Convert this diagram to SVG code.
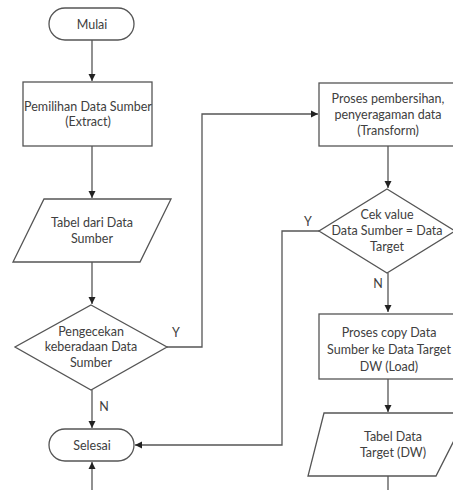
<svg xmlns="http://www.w3.org/2000/svg" width="453" height="490" viewBox="0 0 453 490">
<style>
.s{fill:#fff;stroke:#555;stroke-width:1.3}
.c{fill:none;stroke:#555;stroke-width:1.3}
text{font-family:Lato,"Liberation Sans",sans-serif;font-size:12.5px;fill:#404040;text-anchor:middle}
</style>
<defs>
<marker id="a" markerWidth="8" markerHeight="8" refX="7" refY="4" orient="auto" markerUnits="userSpaceOnUse">
<path d="M0,0.5 L7,4 L0,7.5 Z" fill="#222"/>
</marker>
</defs>
<rect width="453" height="490" fill="#fff"/>
<g id="connectors">
<path class="c" d="M92,40 V81" marker-end="url(#a)"/>
<path class="c" d="M92,146 V198" marker-end="url(#a)"/>
<path class="c" d="M92,262 V304" marker-end="url(#a)"/>
<path class="c" d="M92,390 V428" marker-end="url(#a)"/>
<path class="c" d="M167,347 H202 V114 H318" marker-end="url(#a)"/>
<path class="c" d="M388,146 V188" marker-end="url(#a)"/>
<path class="c" d="M319,231 H282 V445 H135" marker-end="url(#a)"/>
<path class="c" d="M388,273 V312" marker-end="url(#a)"/>
<path class="c" d="M388,379 V412" marker-end="url(#a)"/>
<path class="c" d="M388,476 V490"/>
<path class="c" d="M92,490 V462" marker-end="url(#a)"/>
<text x="176" y="337">Y</text>
<text x="104" y="411">N</text>
<text x="308" y="226">Y</text>
<text x="378" y="288">N</text>
</g>
<g id="mulai">
<rect class="s" x="49" y="8" width="85" height="32" rx="16"/>
<text x="92" y="28.5">Mulai</text>
</g>
<g id="extract">
<rect class="s" x="23" y="82" width="129" height="64"/>
<text x="88" y="111">Pemilihan Data Sumber</text>
<text x="88" y="126">(Extract)</text>
</g>
<g id="tabel-sumber">
<polygon class="s" points="44,199 171,199 140,262 13,262"/>
<text x="92" y="227">Tabel dari Data</text>
<text x="92" y="243">Sumber</text>
</g>
<g id="cek-sumber">
<polygon class="s" points="91,305 167,347 91,390 15,347"/>
<text x="91" y="336">Pengecekan</text>
<text x="91" y="351">keberadaan Data</text>
<text x="91" y="367">Sumber</text>
</g>
<g id="selesai">
<rect class="s" x="49" y="429" width="85" height="32" rx="16"/>
<text x="92" y="449.5">Selesai</text>
</g>
<g id="transform">
<rect class="s" x="319" y="83" width="140" height="63"/>
<text x="388" y="103">Proses pembersihan,</text>
<text x="388" y="119">penyeragaman data</text>
<text x="388" y="135">(Transform)</text>
</g>
<g id="cek-value">
<polygon class="s" points="387,189 455,231 387,273 319,231"/>
<text x="387" y="219">Cek value</text>
<text x="387" y="235">Data Sumber = Data</text>
<text x="387" y="251">Target</text>
</g>
<g id="load">
<rect class="s" x="319" y="314" width="140" height="65"/>
<text x="389" y="337">Proses copy Data</text>
<text x="389" y="354">Sumber ke Data Target</text>
<text x="389" y="371">DW (Load)</text>
</g>
<g id="tabel-target">
<polygon class="s" points="324,413 468,413 436,476 308,476"/>
<text x="393" y="441">Tabel Data</text>
<text x="393" y="457">Target (DW)</text>
</g>
</svg>
